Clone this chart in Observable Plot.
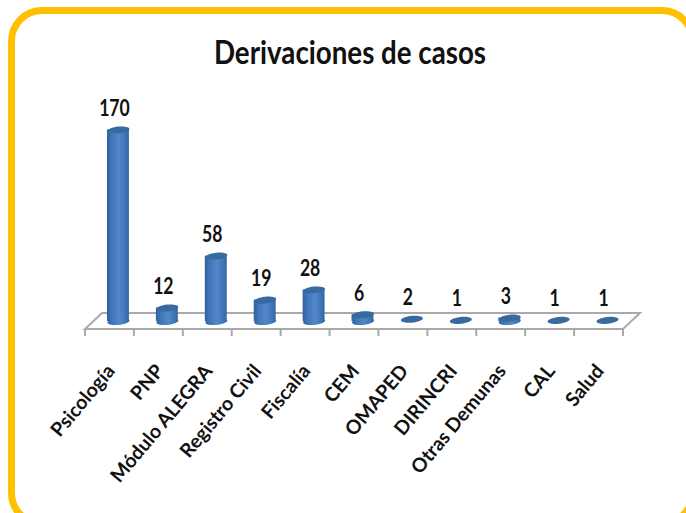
<!DOCTYPE html>
<html><head><meta charset="utf-8">
<script src="https://cdn.jsdelivr.net/npm/d3@7"></script>
<script src="https://cdn.jsdelivr.net/npm/@observablehq/plot@0.6"></script>
<style>
html,body{margin:0;padding:0;background:#fff}
#page{position:relative;width:686px;height:513px;overflow:hidden;font-family:Lato,sans-serif}
#frame{position:absolute;left:8px;top:7px;width:688px;height:520px;box-sizing:border-box;border:7px solid #FFC000;border-radius:34px}
#title{position:absolute;left:0;top:31px;width:700px;text-align:center;font-size:32px;font-weight:700;line-height:42px;color:#111;transform:scaleX(.866);transform-origin:350px 0}
#chart{position:absolute;left:0;top:80px}
svg{display:block;overflow:visible}
</style></head>
<body>
<div id="page"><div id="frame"></div><div id="title">Derivaciones de casos</div><div id="chart"></div></div>
<script>
const categories = ["Psicología","PNP","Módulo ALEGRA","Registro Civil","Fiscalía","CEM","OMAPED","DIRINCRI","Otras Demunas","CAL","Salud"];
const values = [170,12,58,19,28,6,2,1,3,1,1];
const rows = categories.map((c,i)=>({c,v:values[i]}));

function ellipseSymbol(rx,ry,tilt){
  return {draw(ctx){
    const k=0.5523,t=tilt;
    const p=(x,y)=>[x,y+x*t];
    const P=(x,y)=>p(x*rx,y*ry);
    ctx.moveTo(...P(-1,0));
    ctx.bezierCurveTo(...P(-1,-k),...P(-k,-1),...P(0,-1));
    ctx.bezierCurveTo(...P(k,-1),...P(1,-k),...P(1,0));
    ctx.bezierCurveTo(...P(1,k),...P(k,1),...P(0,1));
    ctx.bezierCurveTo(...P(-k,1),...P(-1,k),...P(-1,0));
    ctx.closePath();
  }};
}
const defs = () => {
  const d = d3.create("svg:defs");
  const g = d.append("linearGradient").attr("id","cyl");
  [[0,"#2f609c"],[0.2,"#3f76b6"],[0.55,"#5288cb"],[0.85,"#3f74b4"],[1,"#33649f"]].forEach(([o,c])=>g.append("stop").attr("offset",o).attr("stop-color",c));
  return d.node();
};
const floor = (index,{x}) => {
  const left=x.range()[0], right=x.range()[1], step=x.step();
  const g=d3.create("svg:g").attr("fill","none").attr("stroke","#a9a9a9").attr("stroke-width",2);
  const y0=249, y1=233, d=17;
  g.append("path").attr("d",`M${left},${y0}L${right},${y0}L${right+d},${y1}L${left+d},${y1}Z`);
  d3.range(categories.length+1).forEach(i=>{
    g.append("line").attr("x1",left+i*step).attr("x2",left+i*step).attr("y1",y0).attr("y2",y0+7);
  });
  return g.node();
};
const dx=8.5;
const chart = Plot.plot({
  width:686,height:433,
  marginLeft:85,marginRight:63,marginTop:20,marginBottom:184,
  x:{type:"band",domain:categories,padding:0,round:false,range:[85,623],label:null},
  y:{domain:[0,170],range:[241,49.5],axis:null},
  style:{background:"transparent",overflow:"visible"},
  marks:[
    defs,
    floor,
    Plot.barY(rows.filter(d=>d.v>=3),{x:"c",y2:"v",y1:0,insetLeft:13.5,insetRight:13.5,dx,fill:"url(#cyl)"}),
    Plot.dot(rows.filter(d=>d.v>=3),{x:"c",y:()=>0,dx,symbol:ellipseSymbol(11,3.5,-0.08),fill:"url(#cyl)",stroke:"none"}),
    Plot.dot(rows,{x:"c",y:"v",dx,symbol:ellipseSymbol(11,3.4,-0.1),fill:"#386a9f",stroke:"none"}),
    Plot.text(rows,{x:"c",y:"v",text:d=>String(d.v),dx:4.5,dy:-21,fontSize:22,fontWeight:700,fill:"#111",fontFamily:"Lato",className:"val"}),
    Plot.axisX({anchor:"bottom",tickSize:0,tickPadding:38,dx:1,tickRotate:-50,fontSize:19.5,fontWeight:700,fill:"#111",label:null,fontFamily:"Lato"})
  ]
});
document.getElementById("chart").append(chart);
// condense the value labels the way the source's narrow typeface sits
d3.select(chart).selectAll("g.val text").each(function(){
  d3.select(this).attr("lengthAdjust","spacingAndGlyphs").attr("textLength",this.getComputedTextLength()*0.8);
});
</script>
</body></html>
